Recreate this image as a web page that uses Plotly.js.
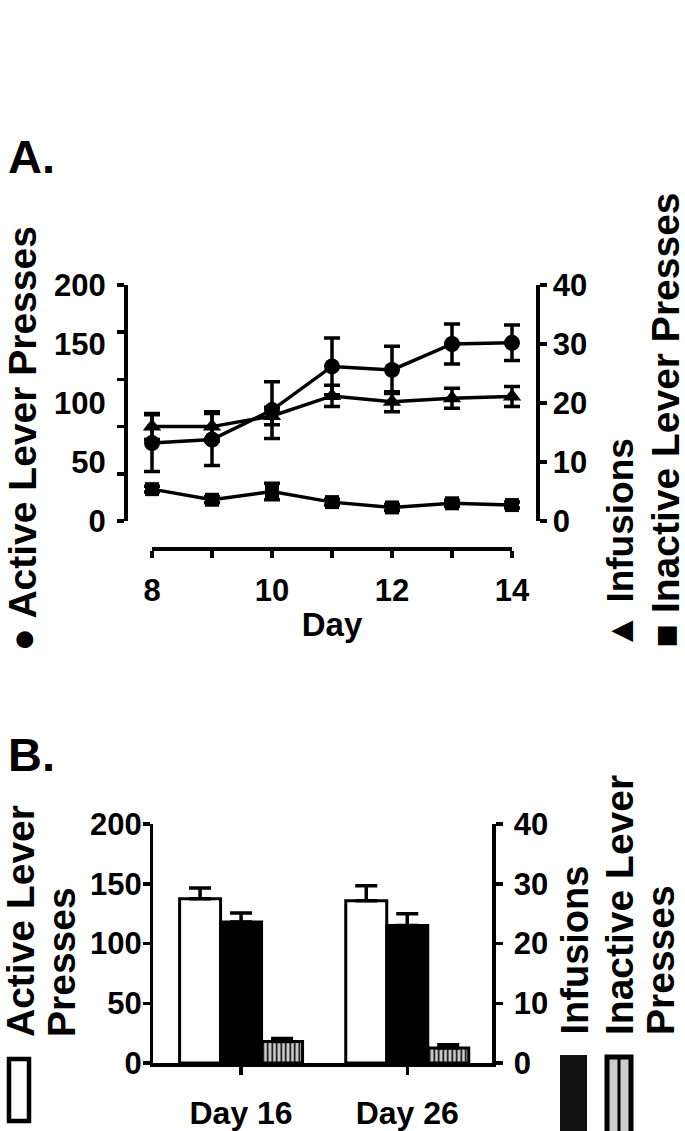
<!DOCTYPE html>
<html>
<head>
<meta charset="utf-8">
<script src="https://cdn.plot.ly/plotly-3.0.1.min.js"></script>
<style>
  html, body { margin: 0; padding: 0; background: #fff; }
  #chart { width: 685px; height: 1131px; }
</style>
</head>
<body>
<div id="chart"></div>
<script>
// ---------- Panel A data (days 8-14, mean ± SEM) ----------
const days = [8, 9, 10, 11, 12, 13, 14];
const activeA = [66, 69, 94, 131, 128, 150, 151];
const activeSemA = [24, 22, 24, 24, 20, 17, 15];
const infusionsA = [16.0, 16.0, 17.8, 21.2, 20.2, 20.8, 21.1];
const infusionsSemA = [2.2, 2.5, 1.5, 1.8, 1.7, 1.7, 1.7];
const inactiveA = [5.4, 3.6, 5.0, 3.2, 2.3, 3.0, 2.7];
const inactiveSemA = [0.5, 0.5, 1.4, 0.5, 0.5, 0.5, 0.5];

// ---------- Panel B data ----------
const groupsB = ['Day 16', 'Day 26'];
const activeB = [137.5, 135.8];
const activeSemB = [9, 12.5];
const infusionsB = [23.6, 23.0];
const infusionsSemB = [1.5, 2.0];
const inactiveB = [3.6, 2.5];
const inactiveSemB = [0.5, 0.55];

// tick labels
const leftTicksA = [0, 50, 100, 150, 200];
const leftTickMarksA = [0, 40, 80, 120, 160, 200];
const rightTicks = [0, 10, 20, 30, 40];
const leftTicksB = [0, 50, 100, 150, 200];

// ---------- layout helpers ----------
const W = 685, H = 1131;
const px = v => v / W;
const py = v => 1 - v / H;
const FAM = 'Liberation Sans, Arial, Helvetica, sans-serif';
const f = (size) => ({ family: FAM, size: size, color: '#000', weight: 'bold' });
const zeros = a => a.map(() => 0);

const errA = (arr) => ({ type: 'data', array: arr, visible: true, color: '#000', thickness: 3.5, width: 8 });
const errB = (arr) => ({ type: 'data', array: arr, arrayminus: zeros(arr), symmetric: false, visible: true, color: '#000', thickness: 3.5, width: 11 });

const traces = [
  // Panel A
  { type: 'scatter', mode: 'lines+markers', x: days, y: activeA, error_y: errA(activeSemA),
    xaxis: 'x', yaxis: 'y', line: { color: '#000', width: 3.5 },
    marker: { symbol: 'circle', size: 16, color: '#000' }, cliponaxis: false, showlegend: false },
  { type: 'scatter', mode: 'lines+markers', x: days, y: infusionsA, error_y: errA(infusionsSemA),
    xaxis: 'x', yaxis: 'y2', line: { color: '#000', width: 3.5 },
    marker: { symbol: 'triangle-up', size: 16, color: '#000' }, cliponaxis: false, showlegend: false },
  { type: 'scatter', mode: 'lines+markers', x: days, y: inactiveA, error_y: errA(inactiveSemA),
    xaxis: 'x', yaxis: 'y2', line: { color: '#000', width: 3.5 },
    marker: { symbol: 'square', size: 14, color: '#000' }, cliponaxis: false, showlegend: false },
  // invisible carriers so the display-only axes (day axis, tick-label axes) are drawn
  { type: 'scatter', mode: 'markers', x: days, y: activeA, xaxis: 'x3', yaxis: 'y',
    marker: { opacity: 0 }, hoverinfo: 'skip', showlegend: false },
  { type: 'scatter', mode: 'markers', x: days, y: activeA, xaxis: 'x', yaxis: 'y3',
    marker: { opacity: 0 }, hoverinfo: 'skip', showlegend: false },
  { type: 'scatter', mode: 'markers', x: groupsB, y: activeB, xaxis: 'x4', yaxis: 'y6',
    marker: { opacity: 0 }, hoverinfo: 'skip', showlegend: false },
  // Panel B
  { type: 'bar', x: groupsB, y: activeB, error_y: errB(activeSemB), xaxis: 'x4', yaxis: 'y4',
    offsetgroup: '1', alignmentgroup: 'B',
    marker: { color: '#fff', line: { color: '#000', width: 3 } }, showlegend: false },
  { type: 'bar', x: groupsB, y: infusionsB, error_y: errB(infusionsSemB), xaxis: 'x4', yaxis: 'y5',
    offsetgroup: '2', alignmentgroup: 'B',
    marker: { color: '#000', line: { color: '#000', width: 3 } }, showlegend: false },
  { type: 'bar', x: groupsB, y: inactiveB, error_y: errB(inactiveSemB), xaxis: 'x4', yaxis: 'y5',
    offsetgroup: '3', alignmentgroup: 'B',
    marker: { color: '#cccccc', line: { color: '#000', width: 3 },
      pattern: { shape: '|', fgcolor: '#000', bgcolor: '#cccccc', size: 4.5, solidity: 0.35, fillmode: 'replace' } },
    showlegend: false }
];

const axLine = { showline: true, linecolor: '#000', linewidth: 3.5, showgrid: false, zeroline: false, ticks: 'outside', tickcolor: '#000', tickwidth: 3.5, ticklen: 7 };
const labelAx = { showline: false, showgrid: false, zeroline: false, tickfont: f(31) };

const layout = {
  width: W, height: H,
  margin: { l: 0, r: 0, t: 0, b: 0, pad: 0 },
  paper_bgcolor: '#fff', plot_bgcolor: 'rgba(0,0,0,0)',
  font: f(31),
  showlegend: false,
  barmode: 'group', bargap: 0.26, bargroupgap: 0,

  // ---- Panel A ----
  xaxis: { domain: [px(125), px(537)], range: [7.55, 14.41667], anchor: 'y', visible: false, fixedrange: true },
  xaxis3: Object.assign({}, axLine, {
    domain: [px(152), px(512)], range: [8, 14], anchor: 'free', position: py(548),
    tick0: 8, dtick: 2, tickfont: f(31), ticklabelstandoff: 6,
    minor: { dtick: 1, tick0: 8, ticks: 'outside', ticklen: 7, tickwidth: 3.5, tickcolor: '#000', showgrid: false },
    title: { text: 'Day', font: f(33), standoff: 6 }
  }),
  yaxis: Object.assign({}, axLine, {
    domain: [py(521), py(285)], range: [0, 200], anchor: 'free', position: px(125),
    tickmode: 'array', tickvals: leftTickMarksA, showticklabels: false
  }),
  yaxis3: Object.assign({}, labelAx, {
    overlaying: 'y', domain: [py(521), py(285)], range: [0, 200], anchor: 'free', position: px(125),
    tickmode: 'array', tickvals: leftTicksA, ticktext: leftTicksA.map(String),
    ticks: 'outside', ticklen: 8, tickcolor: 'rgba(0,0,0,0)', ticklabelstandoff: 5
  }),
  yaxis2: Object.assign({}, axLine, {
    overlaying: 'y', side: 'right', domain: [py(521), py(285)], range: [0, 40], anchor: 'free', position: px(537),
    tickmode: 'array', tickvals: rightTicks, ticktext: rightTicks.map(String), tickfont: f(31), ticklabelstandoff: 0
  }),

  // ---- Panel B ----
  xaxis4: Object.assign({}, axLine, {
    domain: [px(153), px(492)], anchor: 'y4', type: 'category', range: [-0.53, 1.51],
    ticklen: 8, tickfont: f(32), ticklabelstandoff: 11
  }),
  yaxis4: Object.assign({}, axLine, {
    domain: [py(1063), py(824)], range: [0, 200], anchor: 'x4',
    tickmode: 'array', tickvals: leftTicksB, showticklabels: false
  }),
  yaxis6: Object.assign({}, labelAx, {
    overlaying: 'y4', domain: [py(1063), py(824)], range: [0, 200], anchor: 'x4',
    tickmode: 'array', tickvals: leftTicksB, ticktext: leftTicksB.map(String),
    ticks: 'outside', ticklen: 4, tickcolor: 'rgba(0,0,0,0)', ticklabelstandoff: 0
  }),
  yaxis5: Object.assign({}, axLine, {
    overlaying: 'y4', side: 'right', domain: [py(1063), py(824)], range: [0, 40], anchor: 'x4',
    tickmode: 'array', tickvals: rightTicks, ticktext: rightTicks.map(String), tickfont: f(31), ticklabelstandoff: 5
  }),

  annotations: [
    { text: 'A.', xref: 'paper', yref: 'paper', x: px(6), y: py(156), xanchor: 'left', yanchor: 'middle', showarrow: false, font: f(47) },
    { text: 'B.', xref: 'paper', yref: 'paper', x: px(6), y: py(754), xanchor: 'left', yanchor: 'middle', showarrow: false, font: f(47) },
    // Panel A axis titles (rotated, reading upward)
    { text: '● Active Lever Presses', textangle: -90, xref: 'paper', yref: 'paper', x: px(22), y: py(654), xanchor: 'center', yanchor: 'bottom', showarrow: false, font: f(39) },
    { text: '▲ Infusions', textangle: -90, xref: 'paper', yref: 'paper', x: px(620), y: py(652), xanchor: 'center', yanchor: 'bottom', showarrow: false, font: f(37) },
    { text: '■ Inactive Lever Presses', textangle: -90, xref: 'paper', yref: 'paper', x: px(665), y: py(650), xanchor: 'center', yanchor: 'bottom', showarrow: false, font: f(39) },
    // Panel B axis titles
    { text: 'Active Lever', textangle: -90, xref: 'paper', yref: 'paper', x: px(20), y: py(1039), xanchor: 'center', yanchor: 'bottom', showarrow: false, font: f(39) },
    { text: 'Presses', textangle: -90, xref: 'paper', yref: 'paper', x: px(61), y: py(1039), xanchor: 'center', yanchor: 'bottom', showarrow: false, font: f(39) },
    { text: 'Infusions', textangle: -90, xref: 'paper', yref: 'paper', x: px(574), y: py(1037), xanchor: 'center', yanchor: 'bottom', showarrow: false, font: f(38) },
    { text: 'Inactive Lever', textangle: -90, xref: 'paper', yref: 'paper', x: px(619), y: py(1037), xanchor: 'center', yanchor: 'bottom', showarrow: false, font: f(39) },
    { text: 'Presses', textangle: -90, xref: 'paper', yref: 'paper', x: px(660), y: py(1037), xanchor: 'center', yanchor: 'bottom', showarrow: false, font: f(39) }
  ],

  shapes: [
    // Panel B legend swatches
    { type: 'rect', xref: 'paper', yref: 'paper', x0: px(9), x1: px(29), y0: py(1059), y1: py(1121), fillcolor: '#fff', line: { color: '#000', width: 4.5 } },
    { type: 'rect', xref: 'paper', yref: 'paper', x0: px(560), x1: px(587), y0: py(1055), y1: py(1140), fillcolor: '#111', line: { color: '#111', width: 0 } },
    { type: 'rect', xref: 'paper', yref: 'paper', x0: px(607), x1: px(631), y0: py(1057), y1: py(1140), fillcolor: '#cccccc', line: { color: '#000', width: 5 } },
    { type: 'line', xref: 'paper', yref: 'paper', x0: px(619), x1: px(619), y0: py(1057), y1: py(1140), line: { color: '#000', width: 3 } }
  ]
};

Plotly.newPlot('chart', traces, layout, { staticPlot: true, displayModeBar: false });
</script>
</body>
</html>
